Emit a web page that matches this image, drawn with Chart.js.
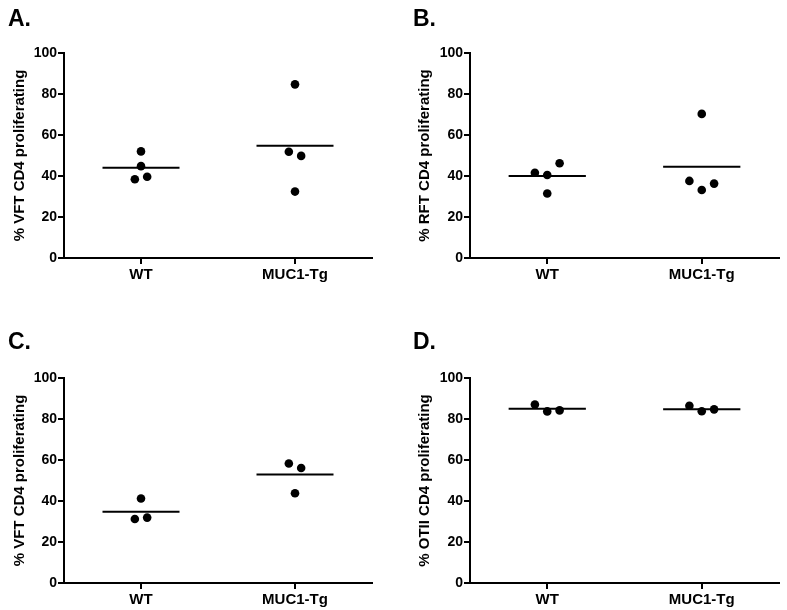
<!DOCTYPE html>
<html>
<head>
<meta charset="utf-8">
<script src="https://cdn.jsdelivr.net/npm/chart.js@4"></script>
<style>
  body { margin: 0; background: #fff; }
  #wrap { position: relative; width: 787px; height: 610px; background: #fff; overflow: hidden; }
  .panel { position: absolute; }
  .letter { position: absolute; font: bold 23px "Liberation Sans", Arial, sans-serif; line-height: 23px; color: #000; }
</style>
</head>
<body>
<div id="wrap">
  <div class="panel" style="left:0px;top:0px"><canvas id="cA" width="393" height="300"></canvas></div>
  <div class="panel" style="left:393px;top:0px"><canvas id="cB" width="394" height="300"></canvas></div>
  <div class="panel" style="left:0px;top:300px"><canvas id="cC" width="393" height="310"></canvas></div>
  <div class="panel" style="left:393px;top:300px"><canvas id="cD" width="394" height="310"></canvas></div>
  <div class="letter" style="left:8px;top:7px">A.</div>
  <div class="letter" style="left:413px;top:7px">B.</div>
  <div class="letter" style="left:8px;top:330px">C.</div>
  <div class="letter" style="left:413px;top:330px">D.</div>
</div>
<script>
// groups on the x axis
const categories = ["WT", "MUC1-Tg"];

// axis titles
const titleA = "% VFT CD4 proliferating";
const titleB = "% RFT CD4 proliferating";
const titleC = "% VFT CD4 proliferating";
const titleD = "% OTII CD4 proliferating";

// A. values
const wtA = [52.0, 44.8, 38.4, 39.6];
const tgA = [84.7, 51.8, 49.8, 32.4];
const meanA = [44.0, 54.8];
const wtJitA = [0, 0, -0.08, 0.08];
const tgJitA = [0, -0.08, 0.08, 0];

// B.
const wtB = [41.6, 40.5, 46.2, 31.5];
const tgB = [70.3, 37.6, 36.3, 33.2];
const meanB = [40.0, 44.5];
const wtJitB = [-0.16, 0, 0.16, 0];
const tgJitB = [0, -0.16, 0.16, 0];

// C.
const wtC = [41.2, 31.2, 31.9];
const tgC = [58.3, 56.1, 43.8];
const meanC = [34.8, 52.9];
const wtJitC = [0, -0.08, 0.08];
const tgJitC = [-0.08, 0.08, 0];

// D.
const wtD = [87.1, 83.7, 84.2];
const tgD = [86.5, 83.8, 84.7];
const meanD = [85.0, 84.8];
const wtJitD = [-0.16, 0, 0.16];
const tgJitD = [-0.16, 0, 0.16];

Chart.defaults.font.family = '"Liberation Sans", Arial, sans-serif';
Chart.defaults.font.size = 14;
Chart.defaults.font.weight = "bold";
Chart.defaults.color = "#000";

function pts(vals, jit, center) {
  return vals.map((v, i) => ({ x: center + jit[i], y: v }));
}

function meanLine(m, center) {
  return {
    data: [{ x: center - 0.5, y: m }, { x: center + 0.5, y: m }],
    showLine: true,
    borderColor: "#000",
    borderWidth: 2,
    pointRadius: 0,
  };
}

function dots(vals, jit, center) {
  return { data: pts(vals, jit, center), backgroundColor: "#000", borderColor: "#000", borderWidth: 0, pointRadius: 4.3 };
}

function createPanel(id, wt, tg, jitWt, jitTg, means, title, box) {
  new Chart(document.getElementById(id), {
    type: "scatter",
    data: {
      datasets: [
        dots(wt, jitWt, 1),
        dots(tg, jitTg, 3),
        meanLine(means[0], 1),
        meanLine(means[1], 3),
      ],
    },
    options: {
      responsive: false,
      animation: false,
      layout: { padding: { top: box.top, right: box.right, left: 0, bottom: 0 } },
      plugins: { legend: { display: false }, tooltip: { enabled: false } },
      scales: {
        x: {
          type: "linear",
          min: 0,
          max: 4,
          afterBuildTicks: (s) => { s.ticks = [{ value: 1 }, { value: 3 }]; },
          afterFit: (s) => { s.height = box.xh; },
          ticks: { callback: (v, i) => categories[i], padding: 2, autoSkip: false, maxRotation: 0, font: { size: 15 } },
          grid: { drawOnChartArea: false, drawTicks: true, tickLength: 6, color: "#000", lineWidth: 2 },
          border: { display: true, color: "#000", width: 2 },
        },
        y: {
          min: 0,
          max: 100,
          afterFit: (s) => { s.width = box.left; },
          ticks: { stepSize: 20, padding: 1 },
          grid: { drawOnChartArea: false, drawTicks: true, tickLength: 6, color: "#000", lineWidth: 2 },
          border: { display: true, color: "#000", width: 2 },
          title: { display: true, text: title, padding: { top: box.tp, bottom: 0 }, font: { size: 15, weight: "bold" } },
        },
      },
    },
  });
}

createPanel("cA", wtA, tgA, wtJitA, tgJitA, meanA, titleA, { top: 53, right: 21, left: 64, xh: 42, tp: 11 });
createPanel("cB", wtB, tgB, wtJitB, tgJitB, meanB, titleB, { top: 53, right: 8, left: 77, xh: 42, tp: 23 });
createPanel("cC", wtC, tgC, wtJitC, tgJitC, meanC, titleC, { top: 78, right: 21, left: 64, xh: 27, tp: 11 });
createPanel("cD", wtD, tgD, wtJitD, tgJitD, meanD, titleD, { top: 78, right: 8, left: 77, xh: 27, tp: 23 });
</script>
</body>
</html>
